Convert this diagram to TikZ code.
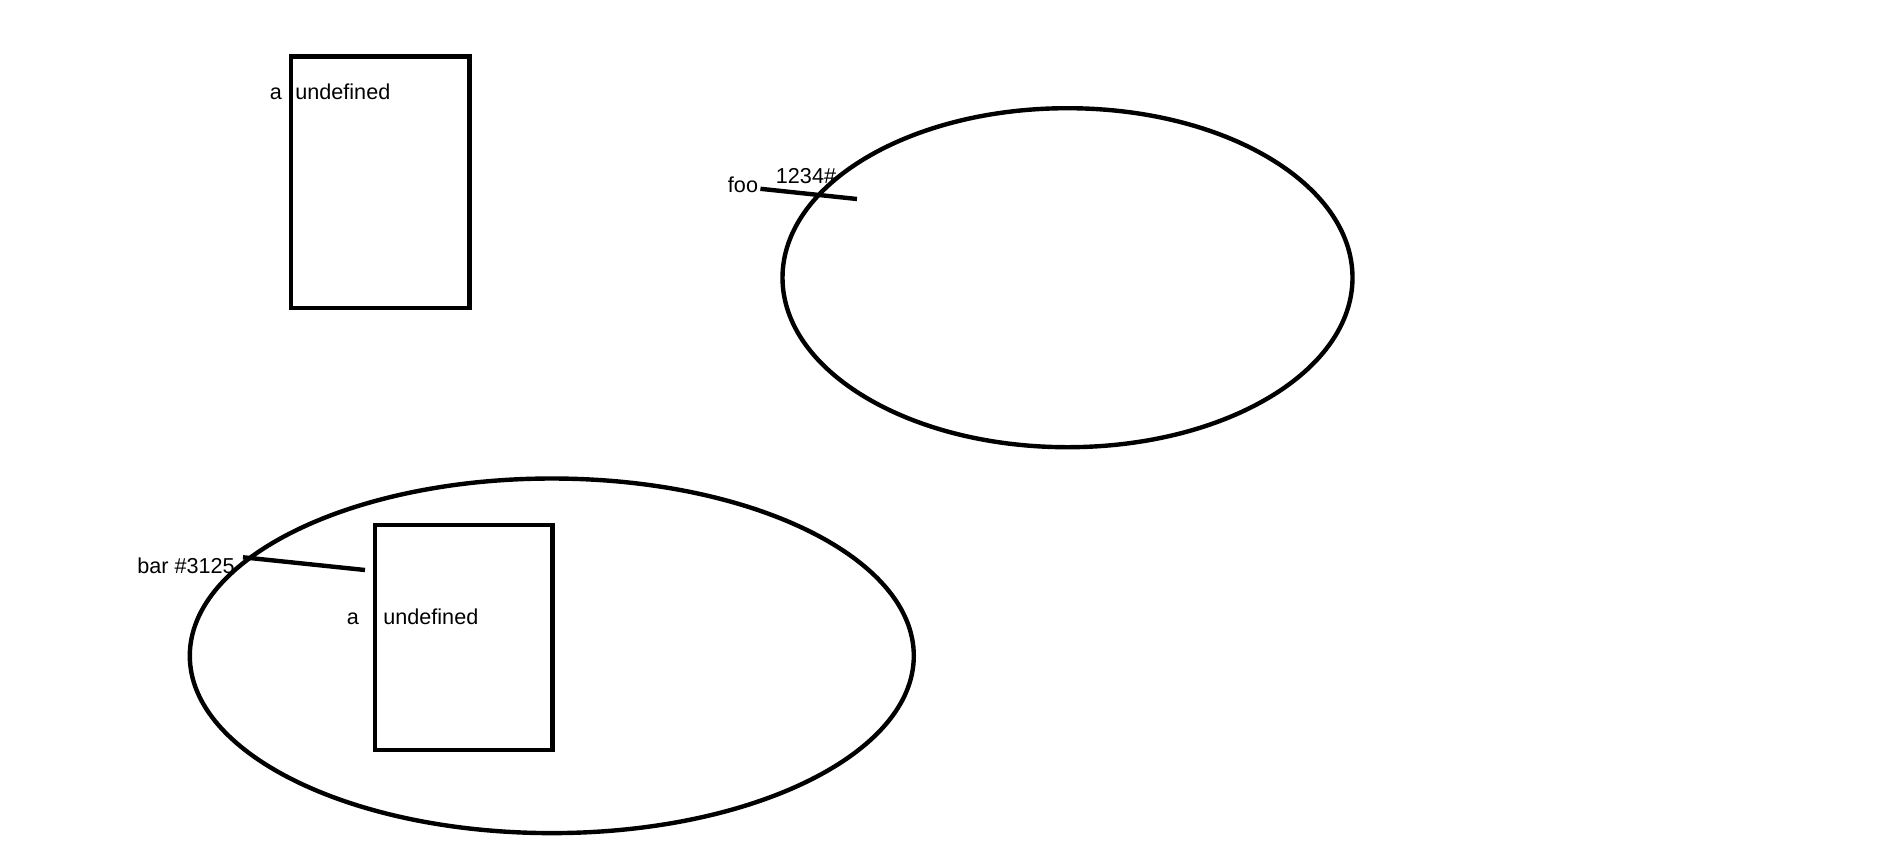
\documentclass[tikz,border=0pt]{standalone}
\usepackage{fontspec}
\setmainfont{Liberation Sans}
\usepackage{tikz}
\usetikzlibrary{shapes.geometric}
\tikzset{%
  every box/.style={
    rectangle,
    draw,
    line width=2.2pt,
    inner sep=0pt
  },
  every blob/.style={
    ellipse,
    draw,
    line width=2.2pt,
    inner sep=0pt
  },
  label text/.style={
    inner sep=0pt,
    font=\fontsize{10.8pt}{12pt}\selectfont
  },
  pointer/.style={
    line width=2.2pt
  },
}
\begin{document}
\begin{tikzpicture}[x=0.5pt, y=-0.5pt]

            \useasboundingbox (0,0) rectangle (1885,858);

            % Ellipses
            \node [every blob, minimum width=285pt, minimum height=169.5pt] (blob-1) at (1067.5,277.7) {};
            \node [every blob, minimum width=362pt, minimum height=177.3pt] (blob-2) at (551.8,655.8) {};

            % Boxes
            \node [every box, minimum width=89.3pt, minimum height=125.7pt] (box-1) at (380,182.3) {};
            \node [every box, minimum width=88.7pt, minimum height=112.5pt] (box-2) at (463.7,637.5) {};

            % Text in the boxes
            \node [label text, anchor=base] (a-1) at (276,99) {a};
            \node [label text, anchor=base west] (undef-1) at (295,99) {undefined};
            \node [label text, anchor=base] (a-2) at (353,624) {a};
            \node [label text, anchor=base west] (undef-2) at (383,624) {undefined};

            % Pointer labels
            \node [label text, anchor=base] (foo) at (743,192.5) {foo};
            \node [label text, anchor=base] (num-foo) at (806,183.3) {1234\#};
            \node [label text, anchor=base east] (bar) at (235,573) {bar \#3125};

            % Free ends of the pointers
            \coordinate (foo-end) at (857,199);
            \coordinate (bar-end) at (365,570);

            % Pointer lines
            \draw [pointer] ([xshift=1pt,yshift=-2pt]foo.east) -- (foo-end);
            \draw [pointer] ([xshift=4pt,yshift=4pt]bar.east) -- (bar-end);

\end{tikzpicture}
\end{document}
